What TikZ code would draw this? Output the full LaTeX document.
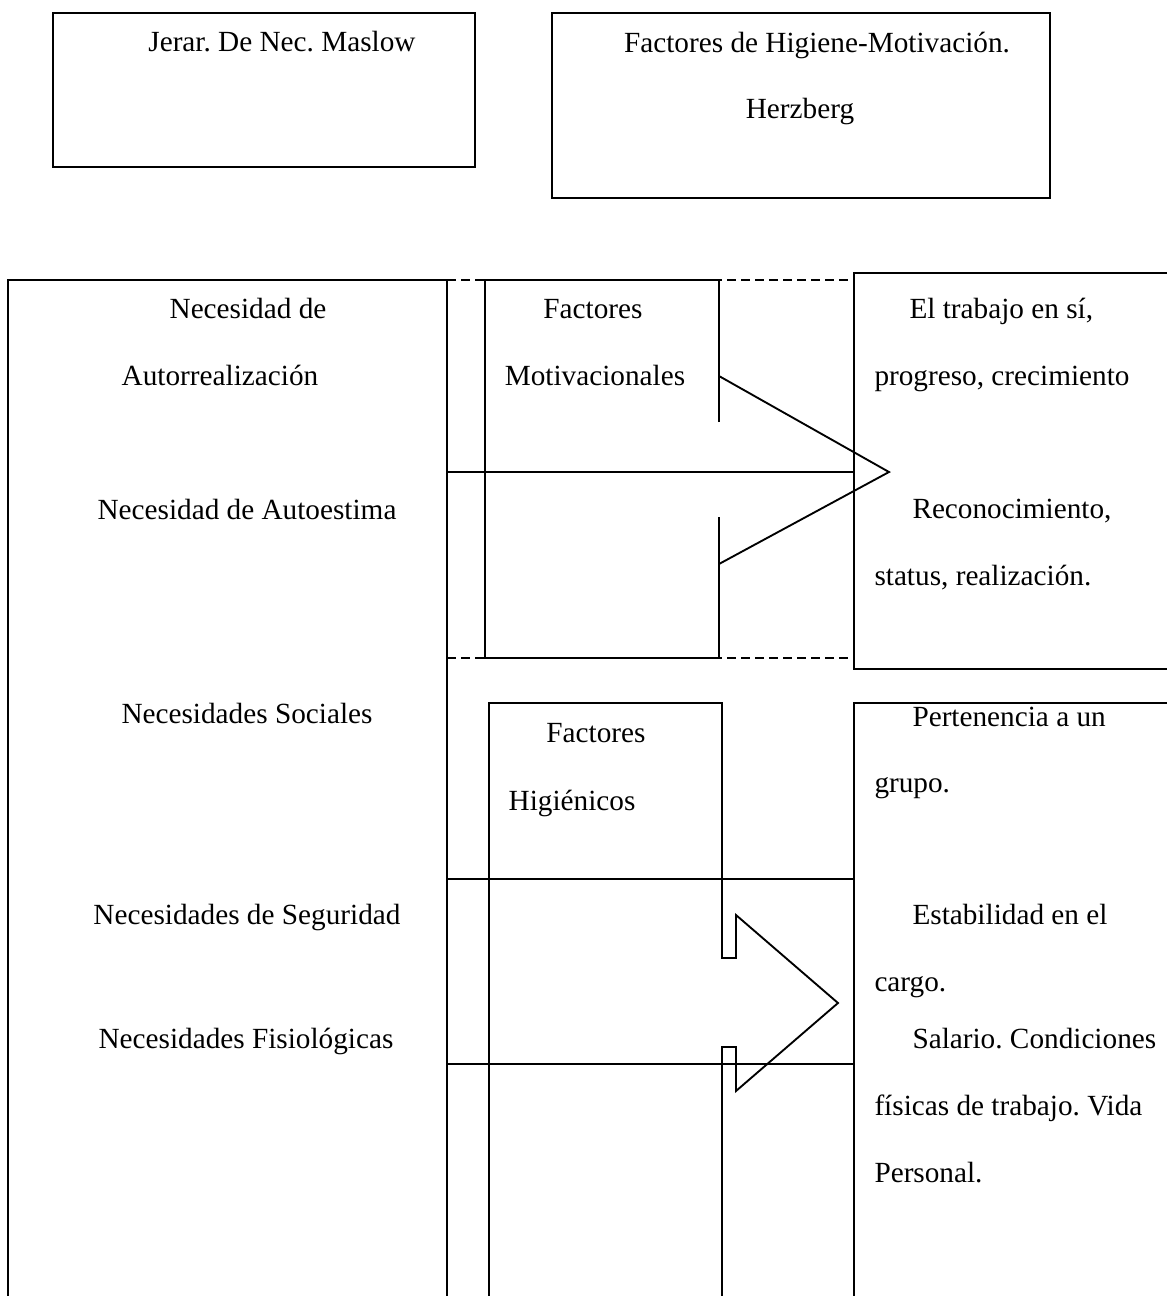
\documentclass[tikz,border=0pt]{standalone}
\usepackage{fontspec}
\setmainfont{Liberation Serif}
\frenchspacing
\begin{document}
\begin{tikzpicture}[x=0.4pt,y=-0.4pt,
    frame/.style={line width=0.75pt,black},
    guide/.style={line width=0.7pt,black,dash pattern=on 3.4pt off 2.2pt},
    lbl/.style={inner sep=0pt,anchor=base,font=\fontsize{11.7}{14}\selectfont},
    lblw/.style={lbl,anchor=base west}]
\useasboundingbox (0,0) rectangle (1167,1296);
\clip (0,0) rectangle (1167,1296);

% header boxes
\draw[frame,line width=0.85pt] (53,13) rectangle (475,167);
\draw[frame,line width=0.85pt] (552,13) rectangle (1050,198);
\node[lbl] (maslow) at (282,51) {Jerar. De Nec. Maslow};
\node[lbl] (herz1) at (817,52) {Factores de Higiene-Motivación.};
\node[lbl] (herz2) at (800,118) {Herzberg};

% Maslow column
\draw[frame] (8,1300) -- (8,280) -- (447,280) -- (447,1300);
\node[lbl] (n1a) at (248,318) {Necesidad de};
\node[lbl] (n1b) at (220,385) {Autorrealización};
\node[lbl] (n2) at (247,519) {Necesidad de Autoestima};
\node[lbl] (n3) at (247,723) {Necesidades Sociales};
\node[lbl] (n4) at (247,924) {Necesidades de Seguridad};
\node[lbl] (n5) at (246,1048) {Necesidades Fisiológicas};

% dashed band of the motivational factors
\draw[guide] (447,280) -- (854,280);
\draw[guide] (447,658) -- (854,658);

% motivational factors box with its block arrow
\draw[frame] (719,422) -- (719,280) -- (485,280) -- (485,658) -- (719,658) -- (719,517);
\draw[frame] (719,376) -- (889,472) -- (719,564);
\draw[frame] (447,472) -- (854,472);
\node[lbl] (m1) at (593,318) {Factores};
\node[lbl] (m2) at (595,385) {Motivacionales};

% motivators
\draw[frame] (1170,273) -- (854,273) -- (854,669) -- (1170,669);
\node[lblw] (r1) at (909,318) {El trabajo en sí,};
\node[lblw] (r2) at (874,385) {progreso, crecimiento};
\node[lblw] (r3) at (912,518) {Reconocimiento,};
\node[lblw] (r4) at (874,585) {status, realización.};

% hygiene factors box with its block arrow
\draw[frame] (489,1300) -- (489,703) -- (722,703) -- (722,958) -- (736,958) -- (736,915)
  -- (838,1003) -- (736,1091) -- (736,1047) -- (722,1047) -- (722,1300);
\draw[frame] (447,879) -- (854,879);
\draw[frame] (447,1064) -- (854,1064);
\node[lbl] (h1) at (596,742) {Factores};
\node[lbl] (h2) at (572,810) {Higiénicos};

% hygiene items
\draw[frame] (1170,703) -- (854,703) -- (854,1300);
\node[lblw] (s1) at (912,726) {Pertenencia a un};
\node[lblw] (s2) at (874,792) {grupo.};
\node[lblw] (s3) at (912,924) {Estabilidad en el};
\node[lblw] (s4) at (874,991) {cargo.};
\node[lblw] (s5) at (912,1048) {Salario. Condiciones};
\node[lblw] (s6) at (874,1115) {físicas de trabajo. Vida};
\node[lblw] (s7) at (874,1182) {Personal.};
\end{tikzpicture}
\end{document}
